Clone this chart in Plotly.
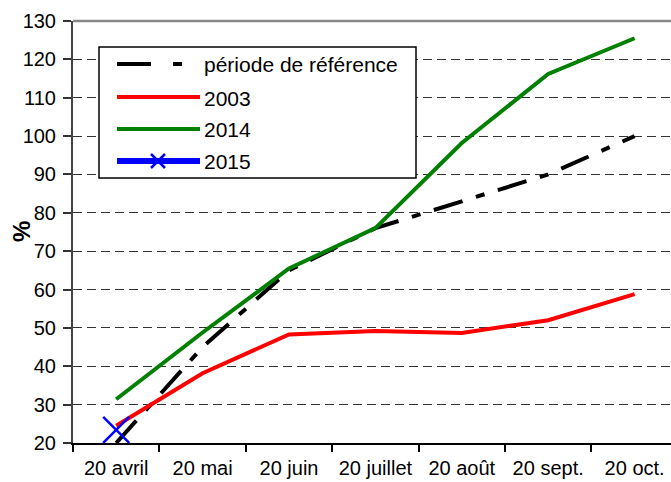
import plotly.graph_objects as go

categories = ["20 avril", "20 mai", "20 juin", "20 juillet", "20 août", "20 sept.", "20 oct."]
ref_values = [20, 45, 65, 76, 83, 90, 100]
y2003 = [24.5, 38.2, 48.3, 49.2, 48.7, 52, 58.8]
y2014 = [31.4, 48.8, 65.5, 76, 98.2, 116.2, 125.5]
y2015 = [23.4]
y_ticks = list(range(20, 131, 10))

W, H = 671, 482
L, T, B = 73, 21, 39
plot_w = W - L
plot_h = H - T - B
cat_px = 86.4

fig = go.Figure()
fig.add_trace(go.Scatter(x=categories, y=ref_values, mode="lines",
                         line=dict(color="black", width=4, dash="30px,14px,9px,14px"),
                         showlegend=False))
fig.add_trace(go.Scatter(x=categories, y=y2003, mode="lines",
                         line=dict(color="#ff0000", width=4), showlegend=False))
fig.add_trace(go.Scatter(x=categories, y=y2014, mode="lines",
                         line=dict(color="#008000", width=4), showlegend=False))
fig.add_trace(go.Scatter(x=categories[:1], y=y2015, mode="markers",
                         marker=dict(symbol="x-thin-open", size=26, color="#0000ff",
                                     line=dict(color="#0000ff", width=2.5)),
                         showlegend=False, cliponaxis=False))

font = dict(family="Liberation Sans, Arial, sans-serif", size=20, color="black")
legend_font = dict(family="Liberation Sans, Arial, sans-serif", size=21, color="black")

fig.update_layout(
    width=W, height=H,
    margin=dict(l=L, r=0, t=T, b=B, autoexpand=False),
    paper_bgcolor="white", plot_bgcolor="white",
    font=font,
    xaxis=dict(type="category", categoryorder="array", categoryarray=categories,
               range=[-0.5, -0.5 + plot_w / cat_px], automargin=False,
               tickson="boundaries", ticks="outside", ticklen=7, tickwidth=1.5,
               tickcolor="black", showgrid=False, showline=True, linecolor="black",
               linewidth=2, ticklabelstandoff=6, zeroline=False),
    yaxis=dict(range=[20, 130], tickmode="array", tickvals=y_ticks, automargin=False,
               ticks="outside", ticklen=8, tickwidth=1.5, tickcolor="#333",
               showline=True, linecolor="#444", linewidth=2,
               showgrid=True, gridcolor="#333", gridwidth=1, griddash="9px,5px",
               zeroline=False, ticklabelstandoff=3),
)

# top border of plot area
fig.add_shape(type="line", xref="paper", yref="paper", x0=0, x1=1, y0=1, y1=1,
              line=dict(color="#888888", width=2.5))

def px(xp):
    return (xp - L) / plot_w

def py(yp):
    return (H - B - yp) / plot_h

# y-axis title
fig.add_annotation(xref="paper", yref="paper", x=px(21), y=py(232), text="<b>%</b>",
                   textangle=-90, showarrow=False, xanchor="center", yanchor="middle",
                   font=dict(family="Liberation Sans, Arial, sans-serif", size=24, color="black"))

# manual legend
fig.add_shape(type="rect", xref="paper", yref="paper",
              x0=px(99), x1=px(416), y0=py(178), y1=py(47),
              line=dict(color="black", width=1.5), fillcolor="white", layer="above")

legend_items = ["période de référence", "2003", "2014", "2015"]
rows = [64, 97, 129, 161]
fig.add_shape(type="line", xref="paper", yref="paper", x0=px(117), x1=px(151),
              y0=py(rows[0]), y1=py(rows[0]), line=dict(color="black", width=4), layer="above")
fig.add_shape(type="line", xref="paper", yref="paper", x0=px(173), x1=px(182),
              y0=py(rows[0]), y1=py(rows[0]), line=dict(color="black", width=4), layer="above")
fig.add_shape(type="line", xref="paper", yref="paper", x0=px(117), x1=px(200),
              y0=py(rows[1]), y1=py(rows[1]), line=dict(color="#ff0000", width=4), layer="above")
fig.add_shape(type="line", xref="paper", yref="paper", x0=px(117), x1=px(200),
              y0=py(rows[2]), y1=py(rows[2]), line=dict(color="#008000", width=4), layer="above")
fig.add_shape(type="line", xref="paper", yref="paper", x0=px(117), x1=px(200),
              y0=py(rows[3]), y1=py(rows[3]), line=dict(color="#0000ff", width=6), layer="above")
for dx0, dx1, dy0, dy1 in [(-7, 7, -7, 7), (-7, 7, 7, -7)]:
    fig.add_shape(type="line", xref="paper", yref="paper",
                  x0=px(158 + dx0), x1=px(158 + dx1),
                  y0=py(rows[3] + dy0), y1=py(rows[3] + dy1),
                  line=dict(color="#0000ff", width=2.5), layer="above")

for txt, r in zip(legend_items, rows):
    fig.add_annotation(xref="paper", yref="paper", x=px(202), y=py(r + 1),
                       text=txt, showarrow=False, xanchor="left", yanchor="middle",
                       font=legend_font)

fig.write_html("out.html", config={"displayModeBar": False},
               post_script="document.body.style.margin='0px';")
